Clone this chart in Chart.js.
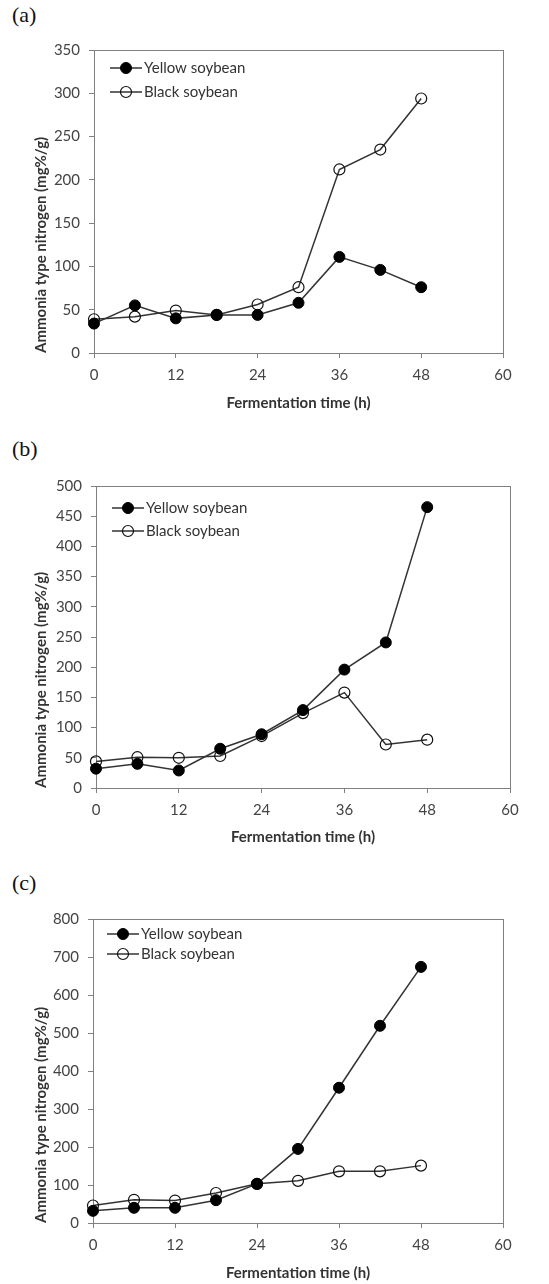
<!DOCTYPE html>
<html>
<head>
<meta charset="utf-8">
<script src="https://cdn.jsdelivr.net/npm/chart.js@4.4.1/dist/chart.umd.min.js"></script>
<style>
  html, body { margin: 0; padding: 0; background: #fff; }
  body { width: 549px; height: 1284px; position: relative; overflow: hidden; }
  .tag { position: absolute; left: 12px; font: 22px/24px "Liberation Serif", "DejaVu Serif", serif; color: #111; }
  canvas { position: absolute; left: 0; }
</style>
</head>
<body>
<div class="tag" style="top:3px">(a)</div>
<div class="tag" style="top:437px">(b)</div>
<div class="tag" style="top:871px">(c)</div>
<canvas id="chartA" width="549" height="413" style="top:0px"></canvas>
<canvas id="chartB" width="549" height="428" style="top:420px"></canvas>
<canvas id="chartC" width="549" height="433" style="top:850px"></canvas>
<script>
// fermentation sampling times (h)
const hours = [0, 6, 12, 18, 24, 30, 36, 42, 48];
const xTicks = [0, 12, 24, 36, 48, 60];

// (a)
const yellowA = [34, 55, 40, 44, 44, 58, 111, 96, 76];
const blackA = [39, 42, 49, 44, 56, 76, 212, 235, 294];
const yTicksA = [0, 50, 100, 150, 200, 250, 300, 350];

// (b)
const yellowB = [32, 40, 29, 65, 89, 129, 196, 241, 465];
const blackB = [44, 51, 50, 53, 86, 124, 158, 72, 80];
const yTicksB = [0, 50, 100, 150, 200, 250, 300, 350, 400, 450, 500];

// (c)
const yellowC = [32, 40, 40, 60, 103, 195, 356, 519, 674];
const blackC = [46, 61, 59, 79, 103, 111, 136, 136, 151];
const yTicksC = [0, 100, 200, 300, 400, 500, 600, 700, 800];

const seriesNames = ['Yellow soybean', 'Black soybean'];

const INK = '#333';
const TICK = '#444';
const AXIS = '#808080';
const FONT = 'Lato';

const panels = [
  { id: 'chartA', top: 0, area: { left: 94, right: 503, top: 50, bottom: 353 }, xTitleY: 403,
    yellow: yellowA, black: blackA, yTicks: yTicksA, legend: { x: 16, y: 18, gap: 24 } },
  { id: 'chartB', top: 420, area: { left: 96, right: 510, top: 486, bottom: 788 }, xTitleY: 837,
    yellow: yellowB, black: blackB, yTicks: yTicksB, legend: { x: 16, y: 22, gap: 23 } },
  { id: 'chartC', top: 850, area: { left: 93, right: 503, top: 919, bottom: 1223 }, xTitleY: 1273,
    yellow: yellowC, black: blackC, yTicks: yTicksC, legend: { x: 14, y: 15, gap: 20 } }
];

// box round the plot area (Excel style)
const frame = {
  id: 'frame',
  beforeDatasetsDraw(chart) {
    const a = chart.chartArea, ctx = chart.ctx;
    ctx.save();
    ctx.strokeStyle = AXIS;
    ctx.lineWidth = 1;
    ctx.strokeRect(Math.round(a.left) + 0.5, Math.round(a.top) + 0.5,
      Math.round(a.right - a.left), Math.round(a.bottom - a.top));
    ctx.restore();
  }
};

// legend drawn inside the plot, line + marker + label
const insideLegend = {
  id: 'insideLegend',
  afterDatasetsDraw(chart, args, opts) {
    const { ctx, chartArea: a } = chart;
    ctx.save();
    ctx.font = '15px ' + FONT;
    ctx.textBaseline = 'middle';
    chart.data.datasets.forEach((ds, i) => {
      const y = a.top + opts.y + i * opts.gap;
      const x0 = a.left + opts.x, x1 = x0 + 32, xm = (x0 + x1) / 2;
      ctx.strokeStyle = ds.borderColor;
      ctx.lineWidth = ds.borderWidth;
      ctx.beginPath(); ctx.moveTo(x0, y); ctx.lineTo(x1, y); ctx.stroke();
      ctx.beginPath(); ctx.arc(xm, y, ds.pointRadius, 0, Math.PI * 2);
      ctx.fillStyle = ds.pointBackgroundColor; ctx.fill();
      ctx.lineWidth = ds.pointBorderWidth; ctx.strokeStyle = ds.pointBorderColor; ctx.stroke();
      ctx.fillStyle = INK;
      ctx.fillText(ds.label, x1 + 2, y);
    });
    ctx.restore();
  }
};

function makeChart(p) {
  const xH = 60;
  const canvasBottom = p.area.bottom + xH;
  new Chart(document.getElementById(p.id), {
    type: 'line',
    data: {
      datasets: [
        { label: seriesNames[0], data: hours.map((h, i) => ({ x: h, y: p.yellow[i] })),
          borderColor: INK, borderWidth: 1.5, pointRadius: 5.5,
          pointBackgroundColor: '#000', pointBorderColor: '#000', pointBorderWidth: 1, clip: false },
        { label: seriesNames[1], data: hours.map((h, i) => ({ x: h, y: p.black[i] })),
          borderColor: INK, borderWidth: 1.5, pointRadius: 5.5,
          pointBackgroundColor: 'rgba(0,0,0,0)', pointBorderColor: '#111', pointBorderWidth: 1.2, clip: false }
      ]
    },
    options: {
      responsive: false, animation: false, events: [],
      layout: { padding: { left: 0, right: 549 - p.area.right, top: p.area.top - p.top, bottom: 0 } },
      plugins: { legend: { display: false }, tooltip: { enabled: false }, insideLegend: p.legend },
      scales: {
        x: {
          type: 'linear', min: xTicks[0], max: xTicks[xTicks.length - 1],
          afterBuildTicks: s => { s.ticks = xTicks.map(v => ({ value: v })); },
          afterFit: s => { s.height = xH; },
          grid: { drawOnChartArea: false, drawTicks: true, tickLength: 5, color: AXIS },
          border: { color: AXIS },
          ticks: { padding: 8, color: TICK, font: { family: FONT, size: 15 } },
          title: { display: true, text: 'Fermentation time (h)', color: INK,
            font: { family: FONT, size: 15, weight: 'bold' },
            padding: { top: 0, bottom: Math.max(0, canvasBottom - 9 - p.xTitleY) } }
        },
        y: {
          min: p.yTicks[0], max: p.yTicks[p.yTicks.length - 1],
          afterBuildTicks: s => { s.ticks = p.yTicks.map(v => ({ value: v })); },
          afterFit: s => { s.width = p.area.left; },
          grid: { drawOnChartArea: false, drawTicks: true, tickLength: 5, color: AXIS },
          border: { color: AXIS },
          ticks: { padding: 9, color: TICK, font: { family: FONT, size: 15 } },
          title: { display: true, align: 'start', text: 'Ammonia type nitrogen (mg%/g)', color: INK,
            font: { family: FONT, size: 15, weight: 'bold' }, padding: { top: 32, bottom: 0 } }
        }
      }
    },
    plugins: [frame, insideLegend]
  });
}

panels.forEach(makeChart);
</script>
</body>
</html>
